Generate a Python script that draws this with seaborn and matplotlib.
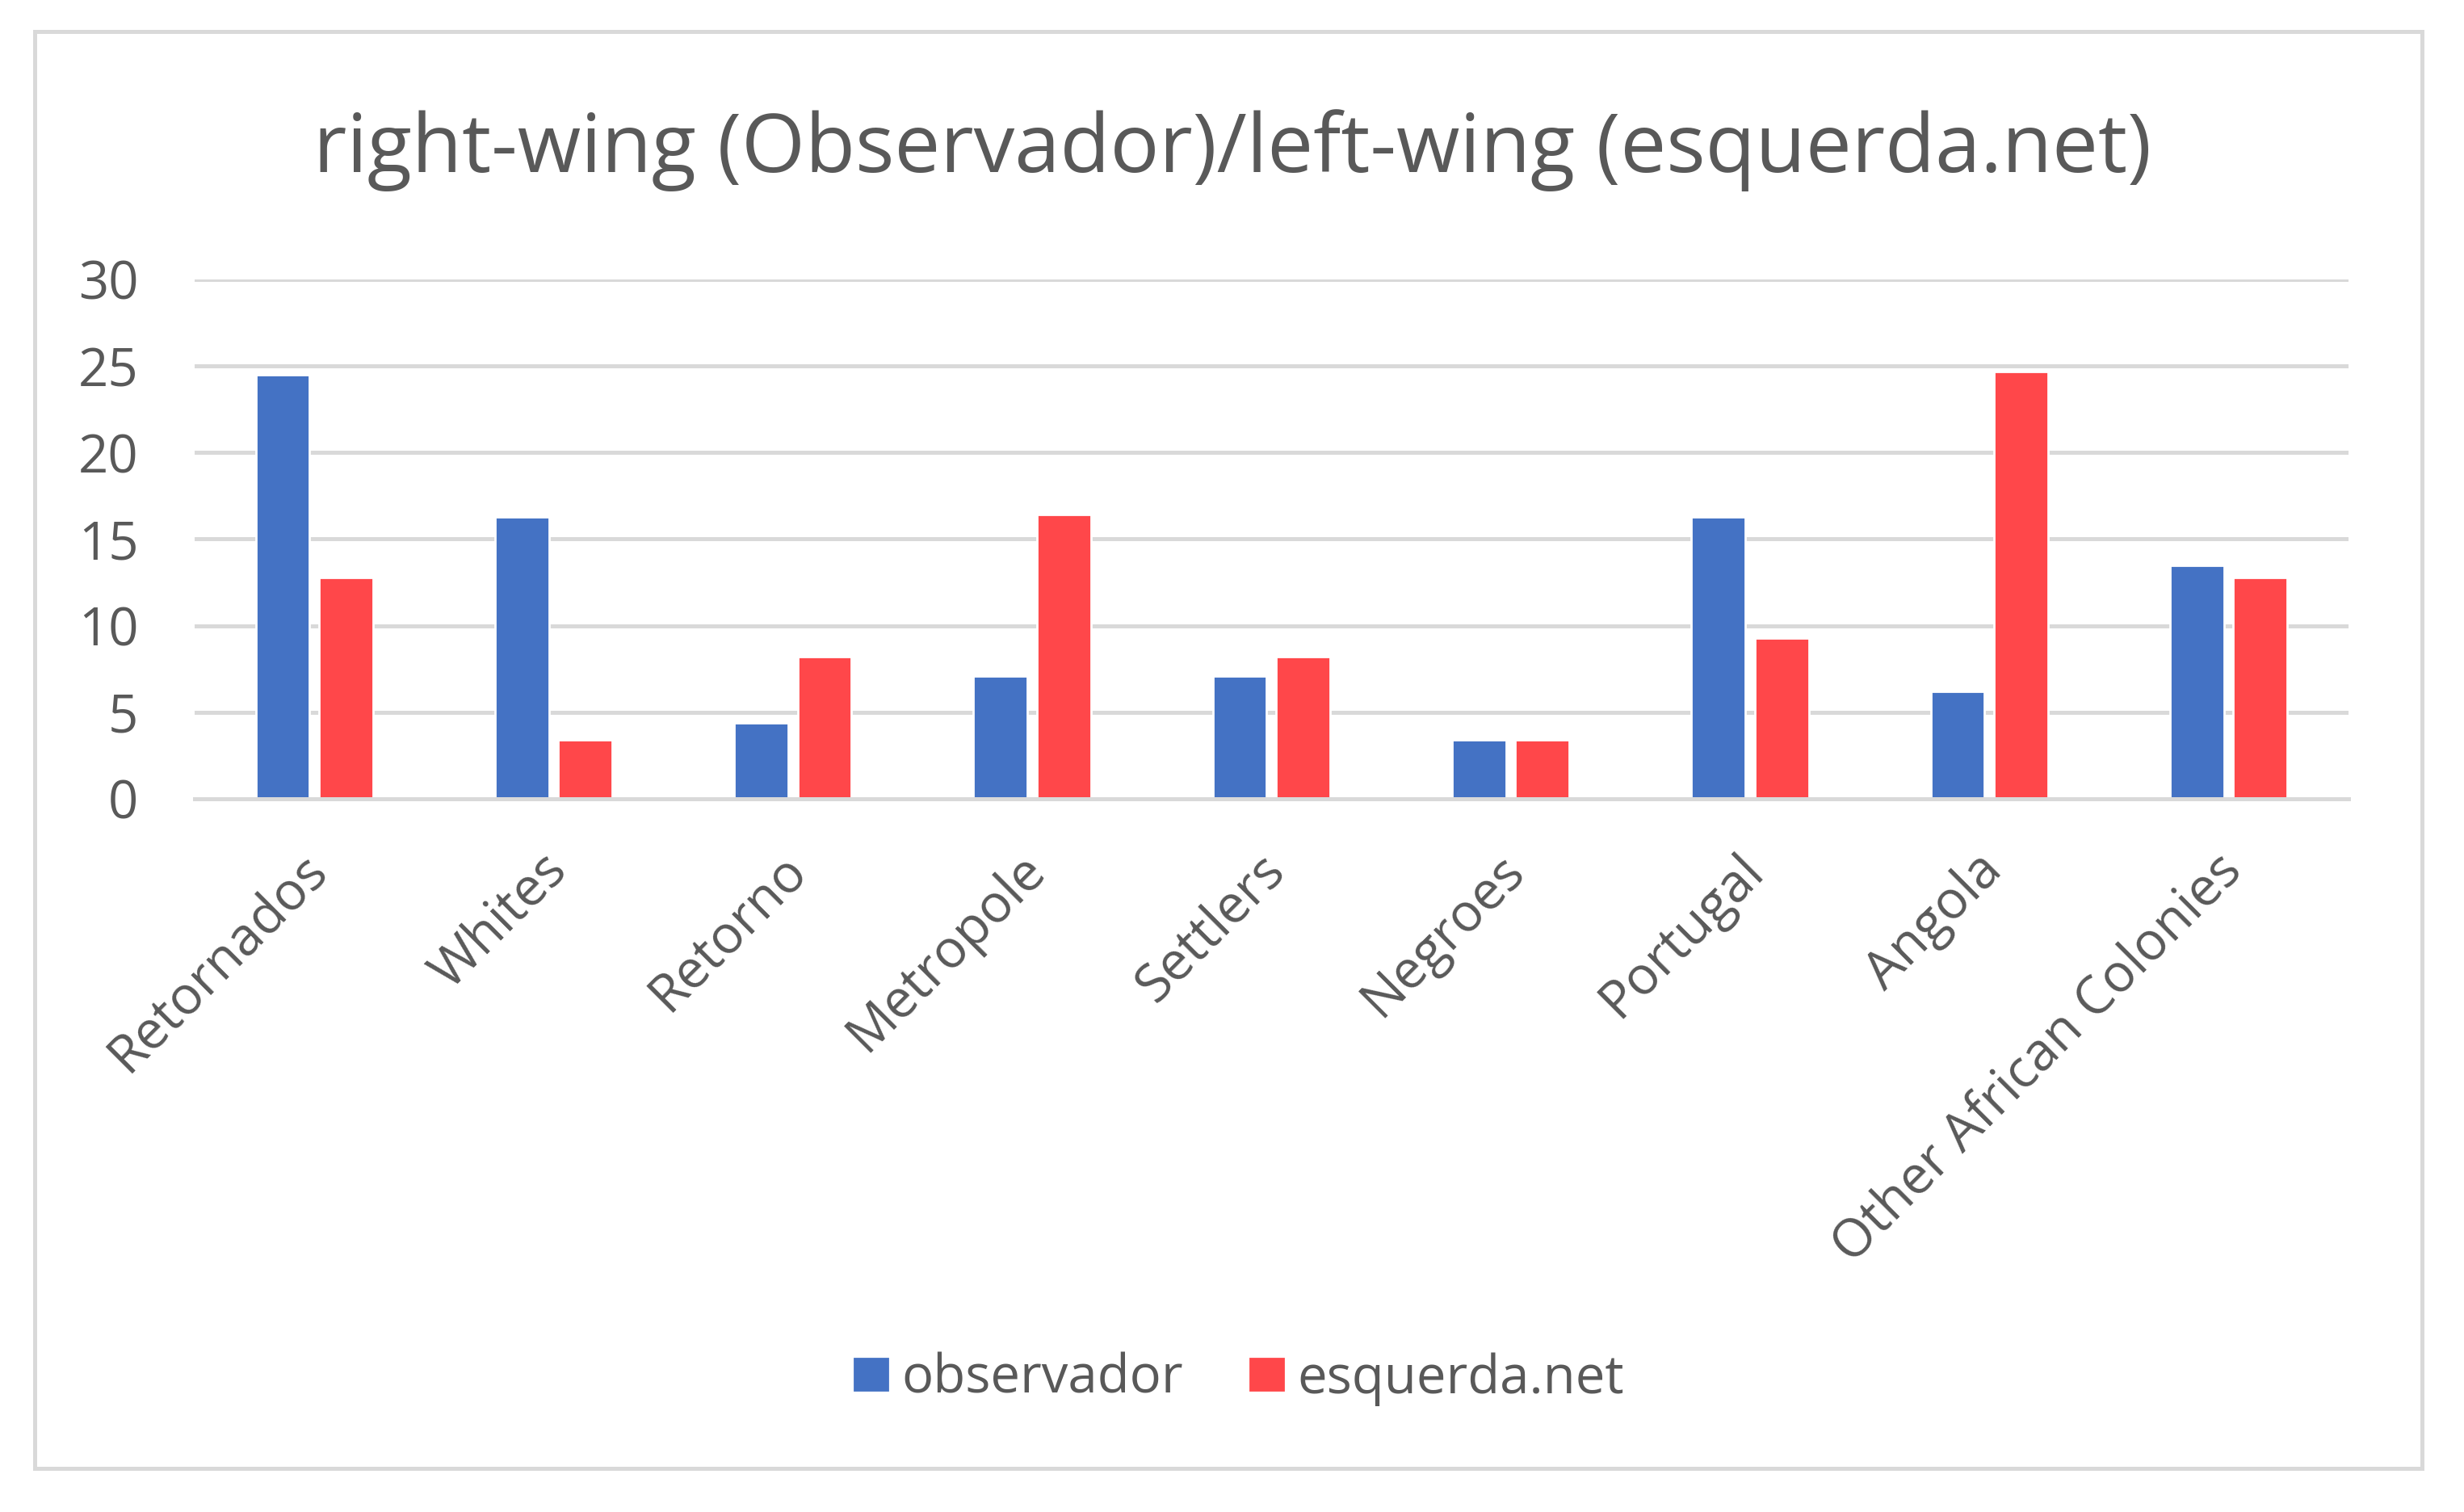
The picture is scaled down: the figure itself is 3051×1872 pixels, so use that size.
import pandas as pd
import seaborn as sns
import matplotlib.pyplot as plt
import matplotlib.transforms as mtransforms
from matplotlib.patches import Rectangle

# 데이터
categories = ['Retornados', 'Whites', 'Retorno', 'Metropole', 'Settlers',
              'Negroes', 'Portugal', 'Angola', 'Other African Colonies']
observador = [24.5, 16.3, 4.4, 7.1, 7.1, 3.4, 16.3, 6.2, 13.5]
esquerda = [12.8, 3.4, 8.2, 16.4, 8.2, 3.4, 9.3, 24.7, 12.8]
series_names = ['observador', 'esquerda.net']

df = pd.DataFrame({
    'category': categories * 2,
    'source': [series_names[0]] * len(categories) + [series_names[1]] * len(categories),
    'value': observador + esquerda,
})

sns.set_theme(style='white')
plt.rcParams['font.family'] = ['Open Sans', 'DejaVu Sans']

fig = plt.figure(figsize=(15.255, 9.36), dpi=200)
ax = fig.add_axes([0.079, 0.4717, 0.874, 0.3435])

sns.barplot(data=df, x='category', y='value', hue='source', order=categories,
            hue_order=series_names, palette=['#4472C4', '#FF474A'],
            width=0.53, gap=0.15, saturation=1, ax=ax, legend=False)

ax.set_xlim(-0.5, len(categories) - 0.5)
ax.set_ylim(0, 30)
ax.set_yticks(range(0, 31, 5))
ax.yaxis.grid(True, color='#D9D9D9', linewidth=1.8)
ax.set_axisbelow(True)
for s in ['top', 'right', 'left']:
    ax.spines[s].set_visible(False)
ax.spines['bottom'].set_color('#D9D9D9')
ax.spines['bottom'].set_linewidth(1.8)
ax.set_xlabel('')
ax.set_ylabel('')
ax.tick_params(axis='y', length=0, pad=25, labelsize=23.5, labelcolor='#595959')
ax.tick_params(axis='x', length=0, pad=18, labelsize=23.5, labelcolor='#595959')
plt.setp(ax.get_xticklabels(), rotation=45, ha='right', rotation_mode='anchor')
# x 라벨 살짝 왼쪽으로
offset = mtransforms.ScaledTranslation(-6 / 72, -2 / 72, fig.dpi_scale_trans)
for lbl in ax.get_xticklabels():
    lbl.set_transform(lbl.get_transform() + offset)

fig.text(0.5, 0.886, 'right-wing (Observador)/left-wing (esquerda.net)',
         ha='center', va='baseline', fontsize=36.5, color='#595959')

handles = [Rectangle((0, 0), 1, 1, color=c) for c in ['#4472C4', '#FF474A']]
fig.legend(handles, series_names, loc='center', bbox_to_anchor=(0.503, 0.088),
           ncol=2, frameon=False, fontsize=23.5, handlelength=0.62,
           handleheight=0.55, handletextpad=0.27, columnspacing=1.27,
           labelcolor='#595959')

# 바깥 테두리
fig.patches.append(Rectangle((43 / 3051, 1 - 1818 / 1872), (2999 - 43) / 3051,
                             (1818 - 39) / 1872, transform=fig.transFigure,
                             fill=False, edgecolor='#D9D9D9', linewidth=1.8))

plt.savefig('out.png', dpi=200, facecolor='white')
